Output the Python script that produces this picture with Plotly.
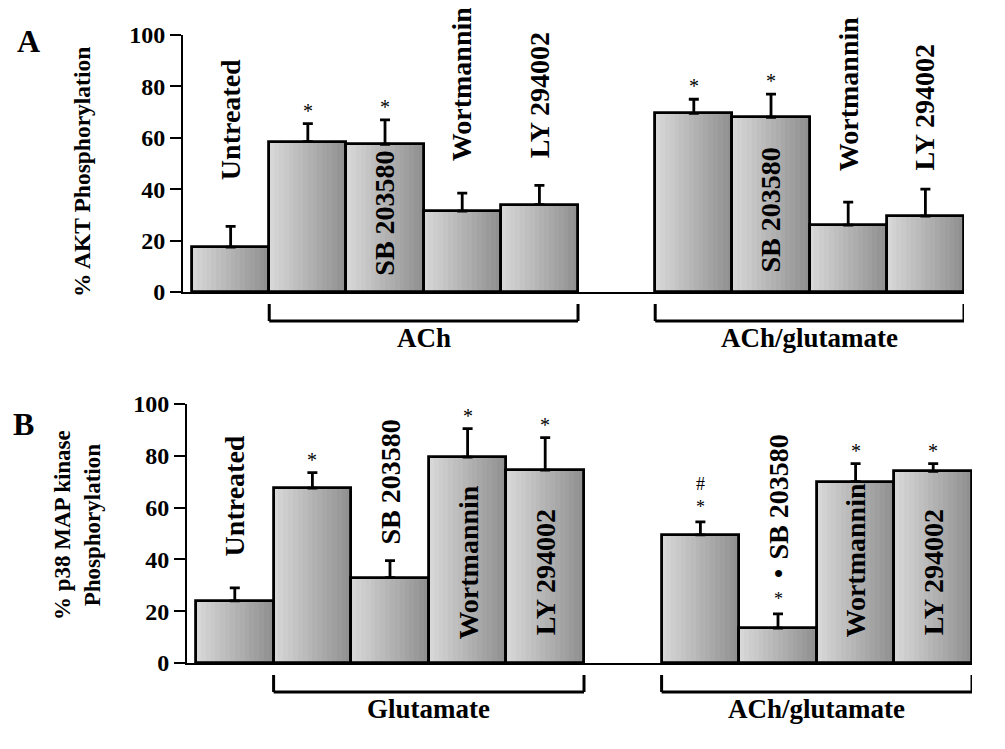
import plotly.graph_objects as go

# Datos (porcentaje de fosforilacion, media y error)
# Panel A: AKT
akt_vals = [17.5, 58.5, 57.5, 31.5, 34.0, 69.5, 68.0, 26.0, 29.5]
akt_err = [8.0, 7.0, 9.5, 7.0, 7.5, 5.5, 9.0, 9.0, 10.5]
akt_labels = ["Untreated", "", "SB 203580", "Wortmannin", "LY 294002",
              "", "SB 203580", "Wortmannin", "LY 294002"]
akt_marks = ["", "*", "*", "", "", "*", "*", "", ""]
akt_groups = ["ACh", "ACh/glutamate"]

# Panel B: p38 MAP kinase
p38_vals = [24.0, 67.5, 33.0, 79.5, 74.5, 49.5, 13.5, 70.0, 74.0]
p38_err = [5.0, 6.0, 6.5, 11.0, 12.5, 5.0, 5.5, 7.0, 3.0]
p38_labels = ["Untreated", "", "SB 203580", "Wortmannin", "LY 294002",
              "", "SB 203580", "Wortmannin", "LY 294002"]
p38_marks = ["", "*", "", "*", "*", "#<br>*",
             "<span style='font-size:26px'><b>•</b></span><br>*", "*", "*"]
p38_groups = ["Glutamate", "ACh/glutamate"]

y_ticks = [0, 20, 40, 60, 80, 100]

# posiciones: 5 barras, un hueco, 4 barras
xs = [0, 1, 2, 3, 4, 6, 7, 8, 9]

# altura (en unidades del eje) de la base de cada etiqueta vertical
akt_lab_y = [42.8, None, 5.4, 50.2, 51.4, None, 6.6, 46.3, 46.7]
p38_lab_y = [40.5, None, 44.8, 8.1, 10.0, None, 39.0, 8.9, 10.0]

FONT = "Liberation Serif"
# la pagina tiene 8 px de margen en el body; la figura ocupa el resto
OFF = 8
W, H = 1005 - OFF, 749 - OFF
N_STRIPS = 16


def px_x(px):
    return (px - OFF) / W


def px_y(py):
    return 1 - (py - OFF) / H


fig = go.Figure()


def add_panel(vals, errs, xa, ya):
    # relleno degradado: tiras finas de gris claro a gris oscuro
    for k in range(N_STRIPS):
        g = int(215 - (215 - 145) * k / (N_STRIPS - 1))
        fig.add_trace(go.Bar(
            x=xs, y=vals, xaxis=xa, yaxis=ya,
            width=[1.0 / N_STRIPS + 0.01] * len(xs),
            offset=[-0.5 + k / N_STRIPS] * len(xs),
            marker=dict(color=f"rgb({g},{g},{g})", line=dict(width=0)),
            showlegend=False, hoverinfo="skip"))
    # contorno y barras de error
    fig.add_trace(go.Bar(
        x=xs, y=vals, xaxis=xa, yaxis=ya, width=[1.0] * len(xs),
        marker=dict(color="rgba(0,0,0,0)", line=dict(color="black", width=2.8)),
        error_y=dict(type="data", symmetric=False, array=errs,
                     arrayminus=[0] * len(errs), color="black",
                     thickness=2.8, width=5),
        showlegend=False))


add_panel(akt_vals, akt_err, "x", "y")
add_panel(p38_vals, p38_err, "x2", "y2")

ann = []
shapes = []


def panel_text(vals, errs, labels, lab_y, marks, groups, xr, yr, ydom_px):
    for i, x in enumerate(xs):
        if labels[i]:
            ann.append(dict(x=x, y=lab_y[i], xref=xr, yref=yr, text=labels[i],
                            textangle=-90, showarrow=False, xanchor="center",
                            yanchor="bottom",
                            font=dict(family=FONT, size=28, color="black", weight="bold")))
        if marks[i]:
            stacked = "<br>" in marks[i]
            ann.append(dict(x=x, y=vals[i] + errs[i], xref=xr, yref=yr, text=marks[i],
                            showarrow=False, xanchor="center", yanchor="bottom",
                            yshift=3 if stacked else 0,
                            font=dict(family=FONT, size=18 if stacked else 20,
                                      color="black")))
    # corchetes de grupo
    yd = yr + " domain"
    for (a, b), name in zip([(0.5, 4.5), (5.5, 9.5)], groups):
        t0, t1 = -12 / ydom_px, -29 / ydom_px
        line = dict(color="black", width=3)
        shapes.append(dict(type="line", xref=xr, yref=yd, x0=a, x1=a, y0=t0, y1=t1, line=line))
        shapes.append(dict(type="line", xref=xr, yref=yd, x0=b, x1=b, y0=t0, y1=t1, line=line))
        shapes.append(dict(type="line", xref=xr, yref=yd, x0=a, x1=b, y0=t1, y1=t1, line=line))
        ann.append(dict(x=(a + b) / 2, y=-46 / ydom_px, xref=xr, yref=yd, text=name,
                        showarrow=False, xanchor="center", yanchor="middle",
                        font=dict(family=FONT, size=27, color="black", weight="bold")))


panel_text(akt_vals, akt_err, akt_labels, akt_lab_y, akt_marks, akt_groups, "x", "y", 257)
panel_text(p38_vals, p38_err, p38_labels, p38_lab_y, p38_marks, p38_groups, "x2", "y2", 259)

# titulos de ejes y letras de panel
paper_txt = [
    (82, 172, "% AKT Phosphorylation", 23.5, -90),
    (77, 525, "% p38 MAP kinase<br>Phosphorylation", 23, -90),
    (28, 41, "A", 32, 0),
    (23, 424, "B", 32, 0),
]
for px, py, txt, size, ang in paper_txt:
    ann.append(dict(x=px_x(px), y=px_y(py), xref="paper", yref="paper",
                    text=txt, textangle=ang, showarrow=False,
                    xanchor="center", yanchor="middle",
                    font=dict(family=FONT, size=size, color="black", weight="bold")))

xax = dict(showgrid=False, zeroline=False, showticklabels=False, ticks="",
           showline=True, linecolor="black", linewidth=2, automargin=False)
yax = dict(range=[0, 100], tickvals=y_ticks, showgrid=False, zeroline=False,
           showline=True, linecolor="black", linewidth=2, automargin=False,
           ticks="outside", ticklen=11, tickwidth=2, tickcolor="black",
           tickfont=dict(family=FONT, size=24, color="black", weight="bold"))

fig.update_layout(
    width=W, height=H, margin=dict(l=0, r=0, t=0, b=0, pad=0),
    paper_bgcolor="white", plot_bgcolor="white",
    barmode="overlay", bargap=0,
    xaxis=dict(xax, domain=[px_x(183), px_x(964)], range=[-0.617, 9.5], anchor="y"),
    yaxis=dict(yax, domain=[px_y(292), px_y(35)], anchor="x"),
    xaxis2=dict(xax, domain=[px_x(187), px_x(972)], range=[-0.616, 9.5], anchor="y2"),
    yaxis2=dict(yax, domain=[px_y(663), px_y(404)], anchor="x2"),
    annotations=ann, shapes=shapes,
)

fig.write_html("out.html")
